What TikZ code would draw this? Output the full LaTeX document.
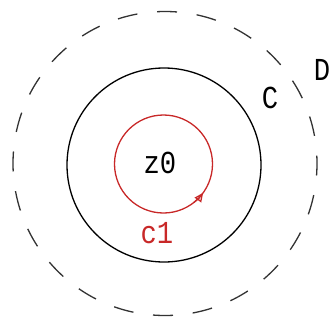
\documentclass[tikz,border=0pt]{standalone}
\usepackage{fontspec}
\setmonofont{Liberation Mono}
\usetikzlibrary{arrows.meta}
\definecolor{cred}{RGB}{200,40,40}
\tikzset{
  lbl/.style={font=\ttfamily\fontsize{32}{32}\selectfont, inner sep=0pt, xscale=0.85},
  ring/.style={line width=1.3pt},
}
\begin{document}
\begin{tikzpicture}[x=1pt,y=-1pt]
\useasboundingbox (0,0) rectangle (334,327);
% outer dashed circle D
\draw[ring, black!80, dash pattern=on 20pt off 19.8pt, dash phase=8pt] (165,163.5) circle[radius=152];
% circle C
\draw[ring, black] (164,165) circle[radius=97];
% small red circle c1
\draw[ring, cred] (163.5,164) circle[radius=49];
\draw[ring, cred, -{Triangle[open, length=9pt, width=8pt]}]
  (163.5,164) ++(52:49) arc[start angle=52, end angle=36, radius=49];
\node[lbl] (z0) at (160,163) {z0};
\node[lbl, text=cred] (c1) at (157,233) {c1};
\node[lbl] (C) at (270,98) {C};
\node[lbl] (D) at (322,70) {D};
\end{tikzpicture}
\end{document}
